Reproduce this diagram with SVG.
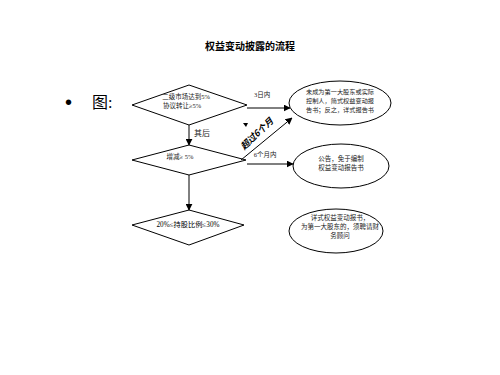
<svg xmlns="http://www.w3.org/2000/svg" width="500" height="375" viewBox="0 0 500 375">
<style>
.s{fill:#fff;stroke:#000;stroke-width:1}
.t{font-family:"Liberation Serif","Noto Sans CJK SC",serif;font-size:6.5px;fill:#222;text-anchor:middle}
.c{stroke:#000;stroke-width:1;fill:none}
</style>
<defs>
<marker id="a" viewBox="0 0 10 10" refX="9" refY="5" markerWidth="7" markerHeight="7" markerUnits="userSpaceOnUse" orient="auto"><path d="M0,0L10,5L0,10z" fill="#000"/></marker>
</defs>
<rect width="500" height="375" fill="#fff"/>
<text x="250" y="50" font-family="'Noto Sans CJK SC',sans-serif" font-size="10" font-weight="bold" text-anchor="middle">权益变动披露的流程</text>
<text x="65" y="109" font-family="'Liberation Sans',sans-serif" font-size="20">•</text>
<text x="92" y="108" font-family="'Liberation Serif','Noto Sans CJK SC',serif" font-size="16">图:</text>
<g id="d1"><polygon class="s" points="132,105 189,85 247,105 189,125"/><text class="t" x="186" y="99">二级市场达到5%</text><text class="t" x="182" y="108">协议转让≥5%</text></g>
<g id="d2"><polygon class="s" points="132,160 189,145 246,160 189,175"/><text class="t" x="180" y="159">增减≥ 5%</text></g>
<g id="d3"><polygon class="s" points="132,225 189,210 244,225 189,245"/><text class="t" x="188" y="227" style="font-size:7.2px;fill:#000">20%≤持股比例≤30%</text></g>
<g id="e1"><ellipse class="s" cx="340" cy="103" rx="51" ry="22"/><text class="t" x="340" y="94" style="font-size:6.2px">未成为第一大股东或实际</text><text class="t" x="340" y="103" style="font-size:6.2px">控制人，简式权益变动报</text><text class="t" x="340" y="112" style="font-size:6.2px">告书；反之，详式报告书</text></g>
<g id="e2"><ellipse class="s" cx="341" cy="166" rx="48" ry="22"/><text class="t" x="341" y="161">公告，免于编制</text><text class="t" x="341" y="170">权益变动报告书</text></g>
<g id="e3"><ellipse class="s" cx="336" cy="231" rx="47" ry="22"/><text class="t" x="340" y="220">详式权益变动报书，</text><text class="t" x="340" y="229">为第一大股东的，须聘请财</text><text class="t" x="340" y="238">务顾问</text></g>
<g id="connectors">
<line class="c" x1="189" y1="125" x2="189" y2="145" marker-end="url(#a)"/>
<line class="c" x1="189" y1="175" x2="189" y2="210" marker-end="url(#a)"/>
<line class="c" x1="247" y1="108" x2="290" y2="108" marker-end="url(#a)"/>
<line class="c" x1="241" y1="160" x2="292" y2="118" marker-end="url(#a)"/>
<line x1="247" y1="164" x2="293" y2="164" stroke="#555" stroke-width="1.3" marker-end="url(#a)"/>
<polygon points="243,123 248,123 246,127" fill="#000"/>
<text x="194" y="136" font-family="'Liberation Serif','Noto Sans CJK SC',serif" font-size="8" fill="#222">其后</text>
<text class="t" x="262" y="97">3日内</text>
<text class="t" x="265" y="157">6个月内</text>
<text x="259" y="136" font-family="'Noto Sans CJK SC',sans-serif" font-size="9" font-weight="bold" font-style="italic" text-anchor="middle" transform="rotate(-44 259 136)">超过6个月</text>
</g>
</svg>
